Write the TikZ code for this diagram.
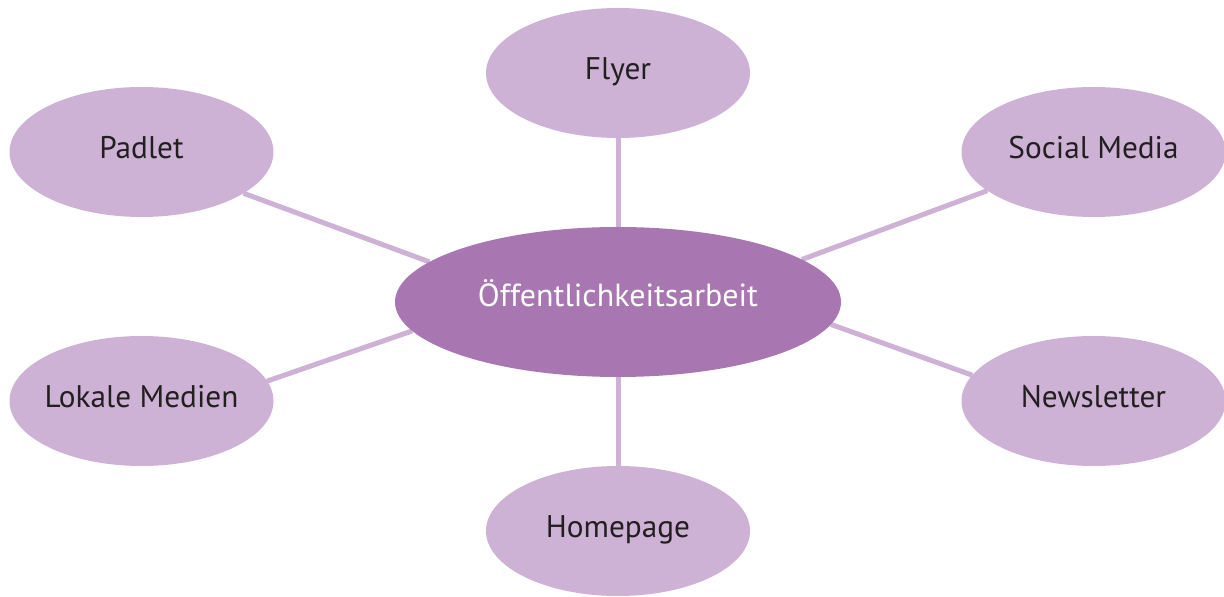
\documentclass[tikz,border=0pt]{standalone}
\usepackage{fontspec}
\setmainfont{PT Sans}
\usetikzlibrary{shapes.geometric,backgrounds}

\definecolor{leaffill}{RGB}{205,178,214}
\definecolor{hubfill}{RGB}{168,118,176}
\definecolor{labeltext}{RGB}{35,31,32}

\begin{document}
\begin{tikzpicture}[
	leaf/.style={ellipse, fill=leaffill, text=labeltext, inner xsep=-0.5cm, inner ysep=0pt,
		outer sep=0pt, minimum width=5.28cm, minimum height=2.6cm,
		font=\fontsize{17.8}{21}\selectfont, text height=0.86em, text depth=0.1em},
	hub/.style={ellipse, fill=hubfill, text=white, inner sep=0pt, outer sep=0pt,
		minimum width=8.92cm, minimum height=3.0cm, font=\fontsize{18.2}{21}\selectfont,
		text height=0.7em, text depth=0.2em},
	spoke/.style={draw=leaffill, line width=2.85pt}
	]

		\useasboundingbox (0,0) rectangle (24.48,11.92);

		\node (oeff) at (12.36,5.88) [hub] {Öffentlichkeitsarbeit};

		\node (flyer) at (12.36,10.46) [leaf] {Flyer};
		\node (padlet) at (2.83,8.88) [leaf] {Padlet};
		\node (social) at (21.87,8.88) [leaf] {Social Media};
		\node (lokal) at (2.83,3.90) [leaf] {Lokale Medien};
		\node (news) at (21.87,3.90) [leaf] {Newsletter};
		\node (home) at (12.36,1.30) [leaf] {Homepage};

		\begin{scope}[on background layer]
		\draw [spoke] (flyer.south) -- (oeff.north);
		\draw [spoke] (home.north) -- (oeff.south);
		\draw [spoke] (padlet.338) -- (oeff.168);
		\draw [spoke] (social.200) -- (oeff.13);
		\draw [spoke] (lokal.9) -- (oeff.188);
		\draw [spoke] (news.168) -- (oeff.354);
		\end{scope}

		\end{tikzpicture}
\end{document}
